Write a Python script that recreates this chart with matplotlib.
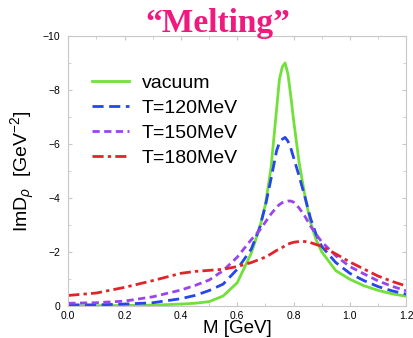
import numpy as np
import matplotlib
matplotlib.use("Agg")
import matplotlib.pyplot as plt
from matplotlib.ticker import MultipleLocator

# mass grid [GeV] and -ImD_rho values
M = [0.0, 0.1, 0.2, 0.3, 0.4, 0.45, 0.5, 0.55, 0.6, 0.65, 0.68, 0.7, 0.72, 0.74,
     0.75, 0.76, 0.77, 0.78, 0.79, 0.8, 0.82, 0.84, 0.86, 0.88, 0.9, 0.95,
     1.0, 1.05, 1.1, 1.15, 1.2]

vacuum = [0.0, 0.0, 0.01, 0.02, 0.06, 0.09, 0.15, 0.36, 0.85, 1.95, 2.9, 3.75, 5.1, 7.3,
          8.4, 8.85, 9.0, 8.6, 7.8, 6.9, 5.3, 4.1, 3.1, 2.45, 2.0, 1.3,
          0.98, 0.74, 0.57, 0.44, 0.35]

T120 = [0.03, 0.03, 0.06, 0.11, 0.26, 0.38, 0.56, 0.8, 1.35, 2.1, 2.9, 3.7, 4.7, 5.75,
        6.05, 6.17, 6.24, 6.1, 5.85, 5.5, 4.8, 4.05, 3.25, 2.65, 2.2, 1.6,
        1.2, 0.93, 0.71, 0.55, 0.43]

T150 = [0.09, 0.11, 0.17, 0.33, 0.58, 0.75, 0.95, 1.3, 1.8, 2.45, 2.8, 3.1, 3.4, 3.65,
        3.75, 3.82, 3.86, 3.88, 3.88, 3.84, 3.62, 3.32, 2.96, 2.65, 2.37, 1.85,
        1.45, 1.18, 0.92, 0.72, 0.55]

T180 = [0.38, 0.47, 0.68, 0.93, 1.2, 1.27, 1.31, 1.35, 1.45, 1.6, 1.72, 1.8, 1.92, 2.05,
        2.1, 2.16, 2.22, 2.28, 2.32, 2.35, 2.38, 2.38, 2.34, 2.27, 2.2, 1.92,
        1.62, 1.36, 1.1, 0.9, 0.73]

labels = ["vacuum", "T=120MeV", "T=150MeV", "T=180MeV"]
series = [vacuum, T120, T150, T180]
colors = ["#72e03a", "#2646ea", "#9a44ee", "#e0242a"]
styles = ["-", (0, (4, 2)), (0, (2.6, 1.6)), (0, (4, 1.5, 1.2, 1.5))]

plt.rcParams["font.family"] = ["Liberation Sans", "DejaVu Sans"]
plt.rcParams["mathtext.fontset"] = "custom"
plt.rcParams["mathtext.rm"] = "Liberation Sans"
plt.rcParams["mathtext.it"] = "Liberation Sans:italic"

fig = plt.figure(figsize=(4.14, 3.38), dpi=100)
ax = fig.add_axes([0.165, 0.0956, 0.816, 0.798])

for y, lab, c, ls in zip(series, labels, colors, styles):
    ax.plot(M, -np.array(y), color=c, ls=ls, lw=2.0, label=lab)

ax.set_xlim(0, 1.2)
ax.set_ylim(0, -10)
ax.xaxis.set_major_locator(MultipleLocator(0.2))
ax.xaxis.set_minor_locator(MultipleLocator(0.1))
ax.yaxis.set_major_locator(MultipleLocator(2))
ax.yaxis.set_minor_locator(MultipleLocator(1))
ax.xaxis.set_major_formatter(matplotlib.ticker.FormatStrFormatter("%.1f"))
ax.tick_params(which="both", direction="in", top=True, right=True,
               color="#c8c8c8", labelsize=7.5)
ax.tick_params(which="major", length=3)
ax.tick_params(which="minor", length=2)
ax.tick_params(axis="x", pad=4)
ax.tick_params(axis="y", pad=6)
for s in ax.spines.values():
    s.set_color("#c8c8c8")
    s.set_linewidth(0.8)

ax.set_xlabel("M [GeV]", fontsize=13.5, labelpad=-1)
ax.set_ylabel(r"ImD$_\rho$  [GeV$^{-2}$]", fontsize=14, labelpad=4)

ax.legend(loc="upper left", bbox_to_anchor=(0.222, 0.78), bbox_transform=fig.transFigure,
          frameon=False, fontsize=14, handlelength=1.9, handletextpad=0.65,
          labelspacing=0.38, borderpad=0, borderaxespad=0)

fig.text(0.525, 1 - 32 / 338, "\u201cMelting\u201d", ha="center", va="baseline",
         family="Liberation Serif", weight="bold", fontsize=24, color="#ee1a7e")

fig.savefig("out.png", dpi=100)
